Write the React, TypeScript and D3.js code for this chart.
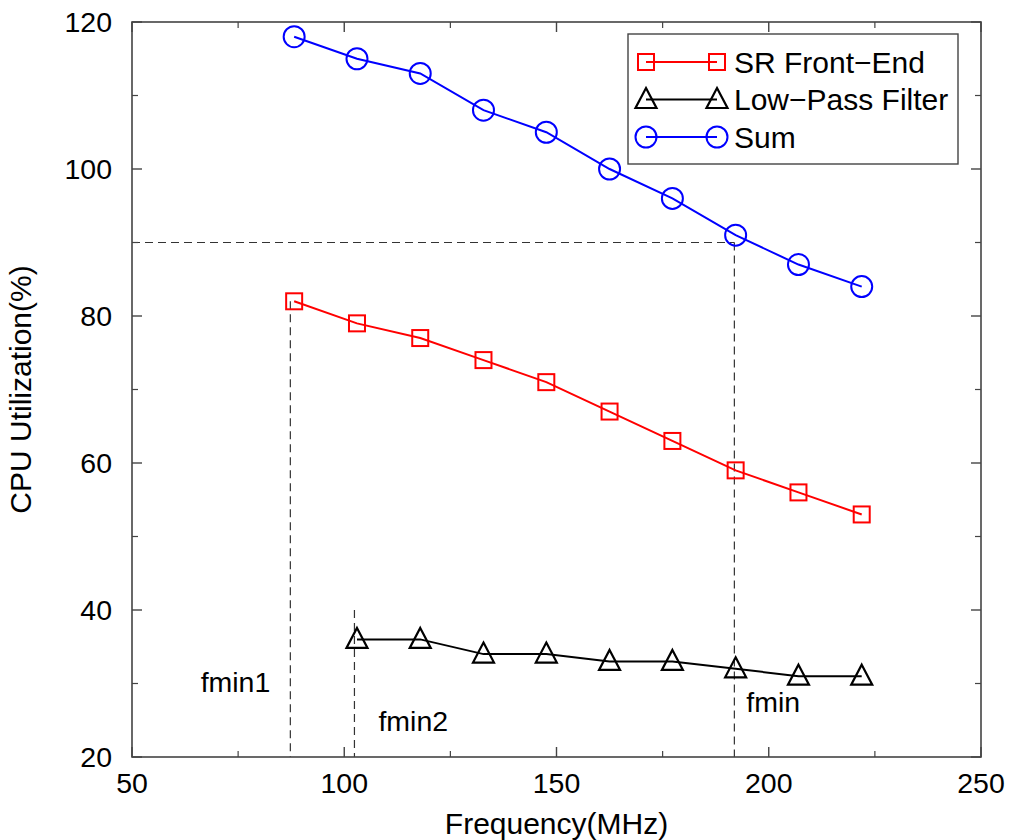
import * as d3 from "d3";

// frequency (MHz) of each measured point
const freqs = [88.2, 103.0, 117.9, 132.8, 147.6, 162.5, 177.3, 192.2, 207.0, 221.9];
const srFrontEnd = [82, 79, 77, 74, 71, 67, 63, 59, 56, 53];
const lowPass = [null, 36, 36, 34, 34, 33, 33, 32, 31, 31];
const sumValues = [118, 115, 113, 108, 105, 100, 96, 91, 87, 84];

const xTicks = [50, 100, 150, 200, 250];
const yTicks = [20, 40, 60, 80, 100, 120];
const xMinor = [75, 125, 175, 225];
const yMinor = [30, 50, 70, 90, 110];

// reference markers: frequency, level where the dashed line starts, label
const fmin1 = { f: 87.3, top: 82, label: "fmin1" };
const fmin2 = { f: 102.4, top: 40, label: "fmin2" };
const fmin = { f: 191.9, top: 90, label: "fmin" };

const legendNames = ["SR Front\u2212End", "Low\u2212Pass Filter", "Sum"];

const W = 1010;
const H = 840;
const margin = { top: 22, right: 29, bottom: 83, left: 132 };
const font = "'Liberation Sans', Arial, Helvetica, sans-serif";
const fs = 28.5; // tick labels and annotations
const fsTitle = 30; // axis titles and legend

function Marker({ kind, x, y, color }: { kind: string; x: number; y: number; color: string }) {
  if (kind === "square")
    return <rect x={x - 8} y={y - 8} width={16} height={16} fill="none" stroke={color} strokeWidth={2} />;
  if (kind === "circle")
    return <circle cx={x} cy={y} r={10.5} fill="none" stroke={color} strokeWidth={2} />;
  return (
    <path
      d={`M${x},${y - 11.5}L${x + 10.5},${y + 8.5}L${x - 10.5},${y + 8.5}Z`}
      fill="none"
      stroke={color}
      strokeWidth={2.2}
    />
  );
}

export default function App() {
  const iw = W - margin.left - margin.right;
  const ih = H - margin.top - margin.bottom;

  const x = d3.scaleLinear().domain([50, 250]).range([0, iw]);
  const y = d3.scaleLinear().domain([20, 120]).range([ih, 0]);

  const series = [
    { name: legendNames[0], values: srFrontEnd, color: "#ff0000", kind: "square" },
    { name: legendNames[1], values: lowPass, color: "#000000", kind: "triangle" },
    { name: legendNames[2], values: sumValues, color: "#0000ff", kind: "circle" },
  ];

  const line = d3
    .line<[number, number | null]>()
    .defined((d) => d[1] != null)
    .x((d) => x(d[0]))
    .y((d) => y(d[1] as number));

  const axisColor = "#444";
  const dash = "#333";

  return (
    <svg width={W} height={H} style={{ position: "absolute", left: 0, top: 0, background: "#fff" }}>
      <g transform={`translate(${margin.left},${margin.top})`} fontFamily={font}>
        {/* dashed guide lines */}
        <line x1={0} x2={x(fmin.f)} y1={y(fmin.top)} y2={y(fmin.top)} stroke={dash} strokeDasharray="8,5" strokeWidth={1.2} />
        {[fmin1, fmin2, fmin].map((m) => (
          <line key={m.label} x1={x(m.f)} x2={x(m.f)} y1={y(m.top)} y2={ih} stroke={dash} strokeDasharray="8,5" strokeWidth={1.2} />
        ))}
        <text x={x(fmin1.f) - 20} y={y(28.9)} fontSize={fs} textAnchor="end">{fmin1.label}</text>
        <text x={x(fmin2.f) + 24} y={y(23.6)} fontSize={fs}>{fmin2.label}</text>
        <text x={x(fmin.f) + 12} y={y(26.1)} fontSize={fs}>{fmin.label}</text>

        {/* axes box and ticks */}
        <rect x={0} y={0} width={iw} height={ih} fill="none" stroke={axisColor} strokeWidth={1.6} />
        {xTicks.map((t) => (
          <g key={"x" + t}>
            <line x1={x(t)} x2={x(t)} y1={ih} y2={ih - 10} stroke={axisColor} strokeWidth={1.4} />
            <line x1={x(t)} x2={x(t)} y1={0} y2={10} stroke={axisColor} strokeWidth={1.4} />
            <text x={x(t)} y={ih + 36} fontSize={fs} textAnchor="middle">{t}</text>
          </g>
        ))}
        {xMinor.map((t) => (
          <g key={"xm" + t}>
            <line x1={x(t)} x2={x(t)} y1={ih} y2={ih - 6} stroke={axisColor} strokeWidth={1.2} />
            <line x1={x(t)} x2={x(t)} y1={0} y2={6} stroke={axisColor} strokeWidth={1.2} />
          </g>
        ))}
        {yTicks.map((t) => (
          <g key={"y" + t}>
            <line x1={0} x2={10} y1={y(t)} y2={y(t)} stroke={axisColor} strokeWidth={1.4} />
            <line x1={iw} x2={iw - 10} y1={y(t)} y2={y(t)} stroke={axisColor} strokeWidth={1.4} />
            <text x={-20} y={y(t)} dy="0.36em" fontSize={fs} textAnchor="end">{t}</text>
          </g>
        ))}
        {yMinor.map((t) => (
          <g key={"ym" + t}>
            <line x1={0} x2={6} y1={y(t)} y2={y(t)} stroke={axisColor} strokeWidth={1.2} />
            <line x1={iw} x2={iw - 6} y1={y(t)} y2={y(t)} stroke={axisColor} strokeWidth={1.2} />
          </g>
        ))}

        {/* series */}
        {series.map((s) => {
          const pts = freqs.map((f, i) => [f, s.values[i]] as [number, number | null]);
          return (
            <g key={s.name}>
              <path d={line(pts) || ""} fill="none" stroke={s.color} strokeWidth={2} />
              {pts
                .filter((p) => p[1] != null)
                .map((p, i) => (
                  <Marker key={i} kind={s.kind} x={x(p[0])} y={y(p[1] as number)} color={s.color} />
                ))}
            </g>
          );
        })}

        {/* legend */}
        <g transform={`translate(${iw - 353},12)`}>
          <rect x={0} y={0} width={330} height={130} fill="#fff" stroke={axisColor} strokeWidth={1.4} />
          {series.map((s, i) => (
            <g key={s.name} transform={`translate(0,${28 + i * 37.5})`}>
              <line x1={18} x2={89} y1={0} y2={0} stroke={s.color} strokeWidth={2} />
              <Marker kind={s.kind} x={18} y={0} color={s.color} />
              <Marker kind={s.kind} x={89} y={0} color={s.color} />
              <text x={106} y={0} dy="0.36em" fontSize={fsTitle}>{s.name}</text>
            </g>
          ))}
        </g>

        {/* axis titles */}
        <text x={iw / 2} y={ih + 77} fontSize={fsTitle} textAnchor="middle">Frequency(MHz)</text>
        <text transform={`translate(${-101},${ih / 2}) rotate(-90)`} fontSize={fsTitle} textAnchor="middle">
          CPU Utilization(%)
        </text>
      </g>
    </svg>
  );
}
